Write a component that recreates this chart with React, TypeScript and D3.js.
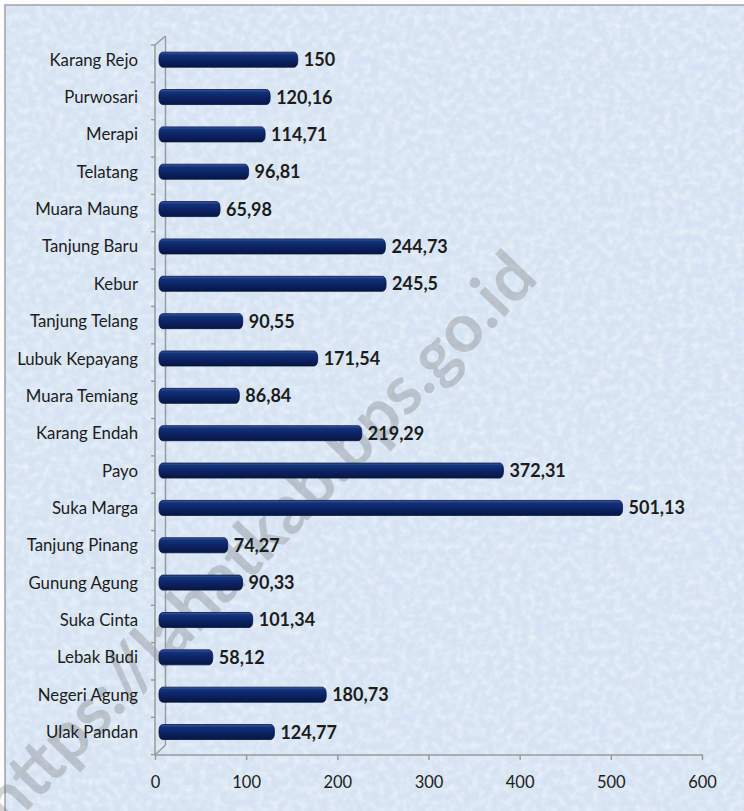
import React from "react";
import * as d3 from "d3";

const categories = [
  "Karang Rejo", "Purwosari", "Merapi", "Telatang", "Muara Maung", "Tanjung Baru",
  "Kebur", "Tanjung Telang", "Lubuk Kepayang", "Muara Temiang", "Karang Endah",
  "Payo", "Suka Marga", "Tanjung Pinang", "Gunung Agung", "Suka Cinta",
  "Lebak Budi", "Negeri Agung", "Ulak Pandan",
];
const values = [
  150, 120.16, 114.71, 96.81, 65.98, 244.73, 245.5, 90.55, 171.54, 86.84, 219.29,
  372.31, 501.13, 74.27, 90.33, 101.34, 58.12, 180.73, 124.77,
];
const xTicks = [0, 100, 200, 300, 400, 500, 600];
const watermark = "https://lahatkab.bps.go.id";

const W = 744;
const H = 811;
const FONT = "Lato, 'Open Sans', sans-serif";

export default function App() {
  const y = d3.scaleBand<string>().domain(categories).range([45, 754.7]).padding(0);
  const xAxis = d3.scaleLinear().domain([0, 600]).range([155.5, 702.5]);
  const xBar = d3.scaleLinear().domain([0, 600]).range([159, 714]);
  const bw = y.bandwidth();
  const barH = 15;
  const fmt = (v: number) => String(v).replace(".", ",");

  return (
    <svg width={W} height={H} style={{ position: "absolute", left: 0, top: 0, display: "block" }}>
      <defs>
        <filter id="tex" x="0" y="0" width="100%" height="100%">
          <feTurbulence type="fractalNoise" baseFrequency="0.14" numOctaves="2" seed="5" />
          <feColorMatrix type="matrix" values="0 0 0 0 0.98  0 0 0 0 0.99  0 0 0 0 1  1.0 0 0 0 -0.38" />
        </filter>
        <linearGradient id="barGrad" x1="0" y1="0" x2="0" y2="1">
          <stop offset="0%" stopColor="#3a5aa8" />
          <stop offset="18%" stopColor="#13307a" />
          <stop offset="55%" stopColor="#0b2364" />
          <stop offset="100%" stopColor="#061743" />
        </linearGradient>
      </defs>
      <rect x={0} y={0} width={W} height={H} fill="#ffffff" />
      <rect x={5} y={5} width={W} height={H} fill="#d5e3f3" stroke="#a3a3a3" strokeWidth={1.5} />
      <rect x={6} y={6} width={W} height={H} filter="url(#tex)" />

      {/* watermark */}
      <text
        transform="translate(540,280) rotate(-46)"
        textAnchor="end"
        fontFamily={FONT}
        fontWeight={700}
        fontSize={68}
        fill="#6f6f6f"
        opacity={0.3}
      >
        {watermark}
      </text>

      {/* 3D axes frame */}
      <g stroke="#9a9a9a" strokeWidth={1.5} fill="none">
        <line x1={165.5} y1={36} x2={165.5} y2={745} />
        <line x1={155} y1={45} x2={155} y2={755} />
        <line x1={155} y1={45} x2={165.5} y2={36} />
        <line x1={155} y1={755} x2={165.5} y2={745} />
        <line x1={155} y1={755} x2={703} y2={755} />
        {categories.map((c) => (
          <line key={"t" + c} x1={151} x2={155} y1={y(c)!} y2={y(c)!} />
        ))}
        <line x1={151} x2={155} y1={754.7} y2={754.7} />
        {xTicks.map((t) => (
          <line key={"xt" + t} x1={xAxis(t)} x2={xAxis(t)} y1={755} y2={760} />
        ))}
      </g>

      {/* bars */}
      {categories.map((c, i) => {
        const cy = y(c)! + bw / 2 - 4;
        const x0 = xBar(0);
        const x1 = xBar(values[i]);
        return (
          <g key={c}>
            <rect
              x={x0}
              y={cy - barH / 2}
              width={x1 - x0}
              height={barH}
              rx={3.5}
              ry={6}
              fill="url(#barGrad)"
              stroke="#061440"
              strokeWidth={0.8}
            />
            <text
              x={x1 + 6}
              y={cy}
              dy="0.36em"
              fontFamily={FONT}
              fontWeight={700}
              fontSize={18}
              fill="#1c1c1c"
            >
              {fmt(values[i])}
            </text>
            <text
              x={138}
              y={cy}
              dy="0.36em"
              textAnchor="end"
              fontFamily={FONT}
              fontSize={16.8}
              fill="#1c1c1c"
            >
              {c}
            </text>
          </g>
        );
      })}

      {/* x tick labels */}
      {xTicks.map((t) => (
        <text
          key={"xl" + t}
          x={xAxis(t)}
          y={782}
          dy="0.36em"
          textAnchor="middle"
          fontFamily={FONT}
          fontSize={16.5}
          fill="#1c1c1c"
        >
          {t}
        </text>
      ))}
    </svg>
  );
}
